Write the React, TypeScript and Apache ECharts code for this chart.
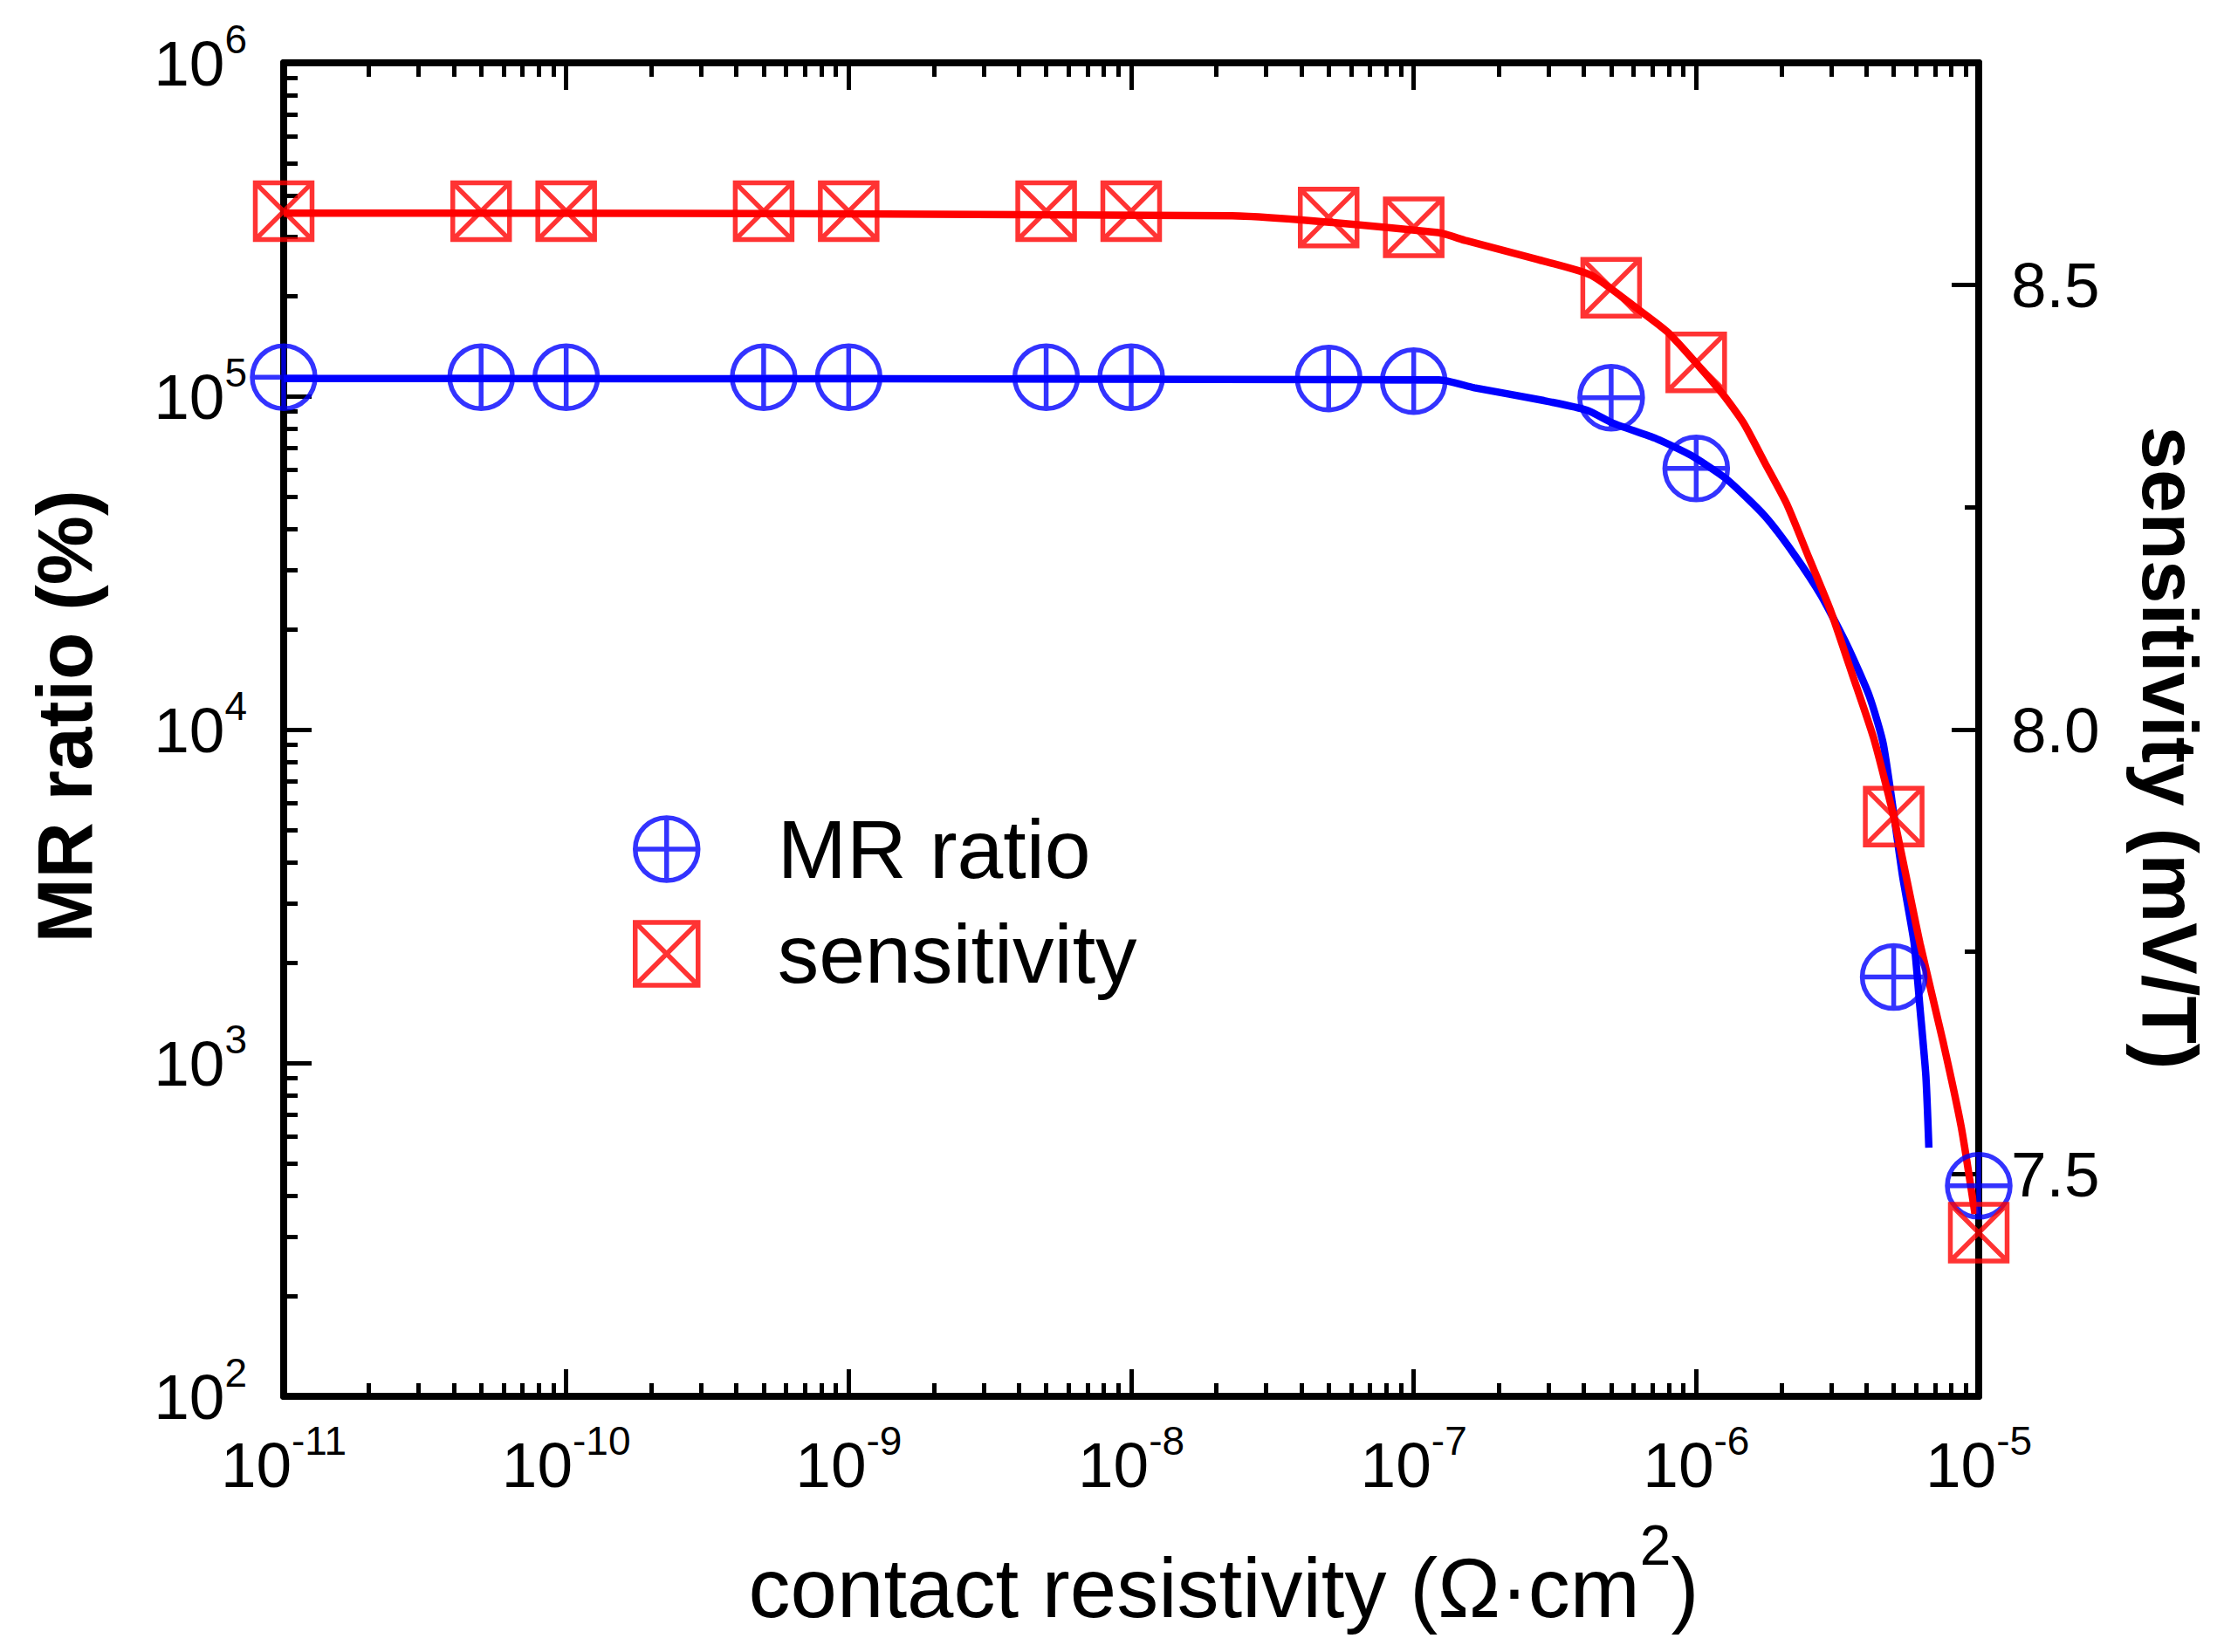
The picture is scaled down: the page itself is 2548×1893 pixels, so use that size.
import React, { useEffect, useRef } from "react";
import * as echarts from "echarts";

// measured points: contact resistivity (Ω·cm²)
const resistivity = [1e-11, 5e-11, 1e-10, 5e-10, 1e-9, 5e-9, 1e-8, 5e-8, 1e-7, 5e-7, 1e-6, 5e-6, 1e-5];
// MR ratio (%), left axis
const mrRatio = [1.14e5, 1.14e5, 1.14e5, 1.14e5, 1.14e5, 1.14e5, 1.14e5, 1.13e5, 1.11e5, 9.9e4, 6.07e4, 1.81e3, 428];
// sensitivity (mV/T), right axis
const sensitivity = [8.583, 8.583, 8.583, 8.583, 8.583, 8.583, 8.583, 8.576, 8.565, 8.497, 8.413, 7.902, 7.434];

// fitted curves
const mrFitX = [1e-11, 1.23e-7, 1.64e-7, 2.89e-7, 4.1e-7, 5.07e-7, 7.24e-7, 9.6e-7, 1.28e-6, 1.75e-6, 2.24e-6, 2.77e-6, 3.43e-6, 4.1e-6, 4.6e-6, 5.37e-6, 5.9e-6, 6.2e-6, 6.5e-6, 6.66e-6];
const mrFitY = [1.13e5, 1.12e5, 1.06e5, 9.7e4, 9.08e4, 8.3e4, 7.45e4, 6.64e4, 5.64e4, 4.37e4, 3.32e4, 2.52e4, 1.78e4, 1.26e4, 9.0e3, 3.66e3, 2.3e3, 1.45e3, 914, 557];
const sensFitX = [1e-11, 2.28e-8, 1.22e-7, 1.53e-7, 2.73e-7, 4.25e-7, 6.27e-7, 8.05e-7, 1.23e-6, 1.47e-6, 1.75e-6, 2.09e-6, 2.5e-6, 2.98e-6, 3.56e-6, 4.25e-6, 5.0e-6, 6.2e-6, 7.5e-6, 8.67e-6, 9.7e-6];
const sensFitY = [8.581, 8.578, 8.559, 8.55, 8.529, 8.511, 8.472, 8.445, 8.379, 8.345, 8.3, 8.254, 8.194, 8.135, 8.063, 7.99, 7.902, 7.759, 7.647, 7.553, 7.455];

// axis ticks
const xDecades = [-11, -10, -9, -8, -7, -6];
const yDecades = [2, 3, 4, 5];
const minorSteps = [2, 3, 4, 5, 6, 7, 8, 9];
const sensTicks = [7.5, 8.0, 8.5];
const sensMinorTicks = [7.75, 8.25];

const FONT = "'Liberation Sans', Arial, sans-serif";
const BLUE = "#0000ff";
const RED = "#ff0000";

const circlePlus = "path://M0,10A10,10,0,1,1,20,10A10,10,0,1,1,0,10ZM10,0L10,20M0,10L20,10";
const squareCross = "path://M0,0L20,0L20,20L0,20ZM0,0L20,20M20,0L0,20";

const xMinor = xDecades.flatMap((d) => minorSteps.map((k) => d + Math.log10(k)));
const yMinor = yDecades.flatMap((d) => minorSteps.map((k) => d + Math.log10(k)));

const expLabel = (v: number) => `{b|10}{s|${Math.round(Math.log10(v))}}`;
const expRich = {
  b: { fontSize: 73, lineHeight: 100, fontFamily: FONT, color: "#000" },
  s: { fontSize: 46, lineHeight: 46, verticalAlign: "top", fontFamily: FONT, color: "#000" },
};

const lineBlack = { color: "#000", width: 8 };
const tickBlack = { color: "#000", width: 5 };

const App: React.FC = () => {
  const chartRef = useRef<HTMLDivElement>(null);

  useEffect(() => {
    document.body.style.margin = "0";
    document.body.style.overflow = "hidden";
    if (!chartRef.current) return;
    const chart = echarts.init(chartRef.current, null, { renderer: "svg" });

    // minor tick overlay axis (log10 space, no line, no labels)
    const minorAxis = (position: string, min: number, max: number, values: number[], length: number) => ({
      type: "value",
      position,
      min,
      max,
      axisLine: { show: false, onZero: false },
      axisLabel: { show: false },
      splitLine: { show: false },
      axisTick: { show: true, inside: true, length, customValues: values, lineStyle: tickBlack },
    });

    const option = {
      animation: false,
      backgroundColor: "#fff",
      grid: { left: 325, right: 281, top: 72, bottom: 293, outerBoundsMode: "none" },
      legend: {
        orient: "vertical",
        left: 720,
        top: 918,
        itemWidth: 72,
        itemHeight: 72,
        itemGap: 20,
        selectedMode: false,
        itemStyle: { borderWidth: 5.5 },
        textStyle: { fontSize: 95, fontFamily: FONT, color: "#000", lineHeight: 100, padding: [0, 0, 0, 86] },
        data: [
          { name: "MR ratio", icon: circlePlus },
          { name: "sensitivity", icon: squareCross },
        ],
      },
      xAxis: [
        {
          type: "log",
          logBase: 10,
          position: "bottom",
          min: 1e-11,
          max: 1e-5,
          axisLine: { show: true, onZero: false, lineStyle: lineBlack },
          axisTick: { show: true, inside: true, length: 31, lineStyle: tickBlack },
          axisLabel: { margin: 28, formatter: expLabel, rich: expRich, showMinLabel: true, showMaxLabel: true },
          splitLine: { show: false },
          name: "{n|contact resistivity (Ω·cm}{s|2}{n|)}",
          nameLocation: "middle",
          nameGap: 139,
          nameMoveOverlap: false,
          nameTextStyle: {
            padding: [0, 0, 0, 212],
            rich: {
              n: { fontSize: 96, lineHeight: 160, fontFamily: FONT, color: "#000" },
              s: { fontSize: 64, lineHeight: 64, verticalAlign: "top", fontFamily: FONT, color: "#000" },
            },
          },
        },
        minorAxis("bottom", -11, -5, xMinor, 15),
        {
          type: "log",
          logBase: 10,
          position: "top",
          min: 1e-11,
          max: 1e-5,
          axisLine: { show: true, onZero: false, lineStyle: lineBlack },
          axisTick: { show: true, inside: true, length: 31, lineStyle: tickBlack },
          axisLabel: { show: false },
          splitLine: { show: false },
        },
        minorAxis("top", -11, -5, xMinor, 16),
      ],
      yAxis: [
        {
          type: "log",
          logBase: 10,
          position: "left",
          min: 1e2,
          max: 1e6,
          axisLine: { show: true, onZero: false, lineStyle: lineBlack },
          axisTick: { show: true, inside: true, length: 32, lineStyle: tickBlack },
          axisLabel: { margin: 42, formatter: expLabel, rich: expRich, showMinLabel: true, showMaxLabel: true },
          splitLine: { show: false },
          name: "MR ratio (%)",
          nameLocation: "middle",
          nameGap: 207,
          nameMoveOverlap: false,
          nameTextStyle: {
            fontSize: 89,
            fontWeight: "bold",
            fontFamily: FONT,
            color: "#000",
            lineHeight: 89,
            padding: [0, 0, 0, 30],
          },
        },
        minorAxis("left", 2, 6, yMinor, 16),
        {
          type: "value",
          position: "right",
          min: 7.25,
          max: 8.75,
          axisLine: { show: true, onZero: false, lineStyle: lineBlack },
          axisTick: { show: true, inside: true, length: 31, customValues: sensTicks, lineStyle: tickBlack },
          axisLabel: {
            margin: 37,
            customValues: sensTicks,
            formatter: (v: number) => v.toFixed(1),
            fontSize: 73,
            fontFamily: FONT,
            color: "#000",
          },
          splitLine: { show: false },
          name: "sensitivity (mV/T)",
          nameLocation: "middle",
          nameRotate: -90,
          nameGap: 174,
          nameMoveOverlap: false,
          nameTextStyle: {
            fontSize: 89,
            fontWeight: "bold",
            fontFamily: FONT,
            color: "#000",
            lineHeight: 89,
            padding: [0, 0, 0, 42],
          },
        },
        minorAxis("right", 7.25, 8.75, sensMinorTicks, 16),
      ],
      series: [
        {
          name: "MR ratio fit",
          type: "line",
          xAxisIndex: 0,
          yAxisIndex: 0,
          data: mrFitX.map((x, i) => [x, mrFitY[i]]),
          symbol: "none",
          smooth: 0.2,
          lineStyle: { color: BLUE, width: 8.5 },
          z: 2,
        },
        {
          name: "sensitivity fit",
          type: "line",
          xAxisIndex: 0,
          yAxisIndex: 2,
          data: sensFitX.map((x, i) => [x, sensFitY[i]]),
          symbol: "none",
          smooth: 0.2,
          lineStyle: { color: RED, width: 8.5 },
          z: 2,
        },
        {
          name: "MR ratio",
          type: "scatter",
          xAxisIndex: 0,
          yAxisIndex: 0,
          data: resistivity.map((x, i) => [x, mrRatio[i]]),
          symbol: circlePlus,
          symbolSize: 72,
          clip: false,
          itemStyle: { color: "rgba(0,0,0,0)", borderColor: BLUE, borderWidth: 5.5 },
          z: 3,
        },
        {
          name: "sensitivity",
          type: "scatter",
          xAxisIndex: 0,
          yAxisIndex: 2,
          data: resistivity.map((x, i) => [x, sensitivity[i]]),
          symbol: squareCross,
          symbolSize: 65,
          clip: false,
          itemStyle: { color: "rgba(0,0,0,0)", borderColor: RED, borderWidth: 5.5 },
          z: 3,
        },
      ],
    };

    chart.setOption(option as any);

    return () => {
      chart.dispose();
    };
  }, []);

  return <div ref={chartRef} style={{ width: "2548px", height: "1893px", background: "#fff" }} />;
};

export default App;
